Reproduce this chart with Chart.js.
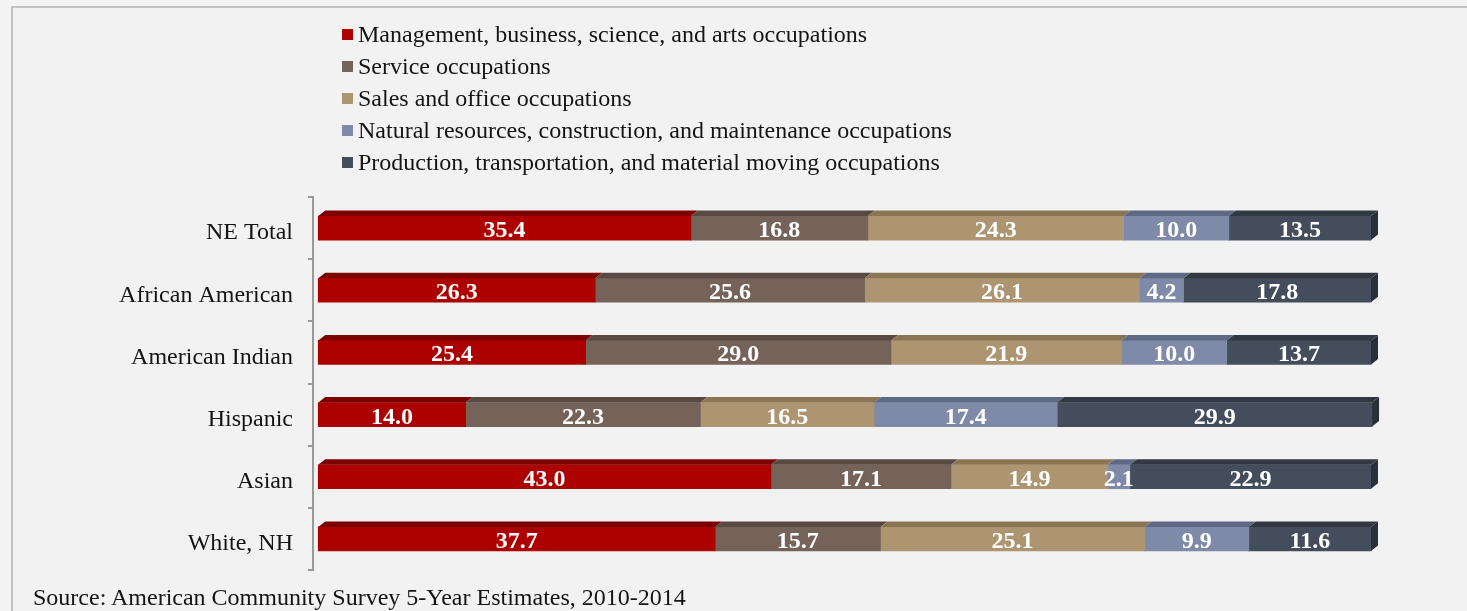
<!DOCTYPE html>
<html>
<head>
<meta charset="utf-8">
<script src="https://cdn.jsdelivr.net/npm/chart.js@4/dist/chart.umd.min.js"></script>
<style>
  html, body { margin: 0; padding: 0; width: 1467px; height: 611px; overflow: hidden; background: #f4f4f4; }
  #frame { position: absolute; left: 11px; top: 6px; width: 1470px; height: 620px;
           border-top: 2px solid #c2c2c2; border-left: 2px solid #c2c2c2; background: #f2f2f2; }
  #chart { position: absolute; left: 0; top: 0; }
  #legend { position: absolute; left: 342px; top: 18px; font-family: 'Liberation Serif', 'Times New Roman', serif;
            font-size: 24px; color: #141414; }
  #legend .item { height: 32px; line-height: 32px; display: flex; align-items: center; white-space: nowrap; }
  #legend .box { width: 11px; height: 11px; margin-right: 5px; flex: none; }
  #source { position: absolute; left: 33px; top: 581px; font-family: 'Liberation Serif', 'Times New Roman', serif;
            font-size: 24px; line-height: 32px; color: #141414; white-space: nowrap; }
</style>
</head>
<body>
<div id="frame"></div>
<canvas id="chart" width="1467" height="611"></canvas>
<div id="legend"></div>
<div id="source">Source: American Community Survey 5-Year Estimates, 2010-2014</div>
<script>
// Occupation shares (%) by group
const categories = ['NE Total', 'African American', 'American Indian', 'Hispanic', 'Asian', 'White, NH'];
const seriesNames = [
  'Management, business, science, and arts occupations',
  'Service occupations',
  'Sales and office occupations',
  'Natural resources, construction, and maintenance occupations',
  'Production, transportation, and material moving occupations'
];
const management = [35.4, 26.3, 25.4, 14.0, 43.0, 37.7];
const service    = [16.8, 25.6, 29.0, 22.3, 17.1, 15.7];
const salesOffice = [24.3, 26.1, 21.9, 16.5, 14.9, 25.1];
const naturalRes = [10.0, 4.2, 10.0, 17.4, 2.1, 9.9];
const production = [13.5, 17.8, 13.7, 29.9, 22.9, 11.6];

// front face, top face and side face shades for each series
const frontColors = ['#ad0000', '#75635a', '#ad9571', '#7e8aa7', '#434d5b'];
const topColors   = ['#7c0000', '#584943', '#8a7555', '#5f6983', '#323943'];
const sideColor = '#2a3039';

const seriesValues = [management, service, salesOffice, naturalRes, production];
const FONT = "'Liberation Serif', 'Times New Roman', serif";

// depth of the extruded bar faces
const DEPTH_X = 7, DEPTH_Y = 5.5;

const barFaces = {
  id: 'barFaces',
  afterDatasetsDraw(chart) {
    const ctx = chart.ctx;
    const last = chart.data.datasets.length - 1;
    ctx.save();
    chart.data.datasets.forEach((ds, di) => {
      const meta = chart.getDatasetMeta(di);
      meta.data.forEach((bar) => {
        const { x, y, base, height } = bar.getProps(['x', 'y', 'base', 'height'], true);
        const top = y - height / 2, bottom = y + height / 2;
        ctx.fillStyle = topColors[di];
        ctx.beginPath();
        ctx.moveTo(base, top);
        ctx.lineTo(x, top);
        ctx.lineTo(x + DEPTH_X, top - DEPTH_Y);
        ctx.lineTo(base + DEPTH_X, top - DEPTH_Y);
        ctx.closePath();
        ctx.fill();
        if (di === last) {
          ctx.fillStyle = sideColor;
          ctx.beginPath();
          ctx.moveTo(x, top);
          ctx.lineTo(x + DEPTH_X, top - DEPTH_Y);
          ctx.lineTo(x + DEPTH_X, bottom - DEPTH_Y);
          ctx.lineTo(x, bottom);
          ctx.closePath();
          ctx.fill();
        }
      });
    });
    // value labels on each segment
    ctx.fillStyle = '#ffffff';
    ctx.font = 'bold 24px ' + FONT;
    ctx.textAlign = 'center';
    ctx.textBaseline = 'alphabetic';
    chart.data.datasets.forEach((ds, di) => {
      const meta = chart.getDatasetMeta(di);
      meta.data.forEach((bar, i) => {
        const { x, y, base } = bar.getProps(['x', 'y', 'base'], true);
        ctx.fillText(ds.data[i].toFixed(1), (x + base) / 2, y + 9);
      });
    });
    ctx.restore();
  }
};

const chart = new Chart(document.getElementById('chart'), {
  type: 'bar',
  data: {
    labels: categories,
    datasets: seriesNames.map((name, i) => ({
      label: name,
      data: seriesValues[i],
      backgroundColor: frontColors[i],
      borderWidth: 0,
      barThickness: 24,
      clip: false
    }))
  },
  options: {
    indexAxis: 'y',
    responsive: false,
    animation: false,
    devicePixelRatio: 1,
    layout: { padding: { left: 0, top: 197, right: 96, bottom: 41 } },
    plugins: {
      legend: { display: false },
      tooltip: { enabled: false }
    },
    scales: {
      x: { stacked: true, min: -0.5, max: 100, display: false },
      y: {
        stacked: true,
        grid: { offset: true, drawOnChartArea: false, drawTicks: true, tickLength: 5, color: '#999999', lineWidth: 2 },
        border: { display: true, color: '#999999', width: 2 },
        ticks: { padding: 15, labelOffset: 5, color: '#141414', font: { family: FONT, size: 24 } },
        afterFit(scale) { scale.width = 313; }
      }
    }
  },
  plugins: [barFaces]
});

// vertical legend built from the chart's datasets
const legendEl = document.getElementById('legend');
chart.data.datasets.forEach((ds) => {
  const item = document.createElement('div');
  item.className = 'item';
  const box = document.createElement('span');
  box.className = 'box';
  box.style.background = ds.backgroundColor;
  const txt = document.createElement('span');
  txt.textContent = ds.label;
  item.appendChild(box);
  item.appendChild(txt);
  legendEl.appendChild(item);
});
</script>
</body>
</html>
